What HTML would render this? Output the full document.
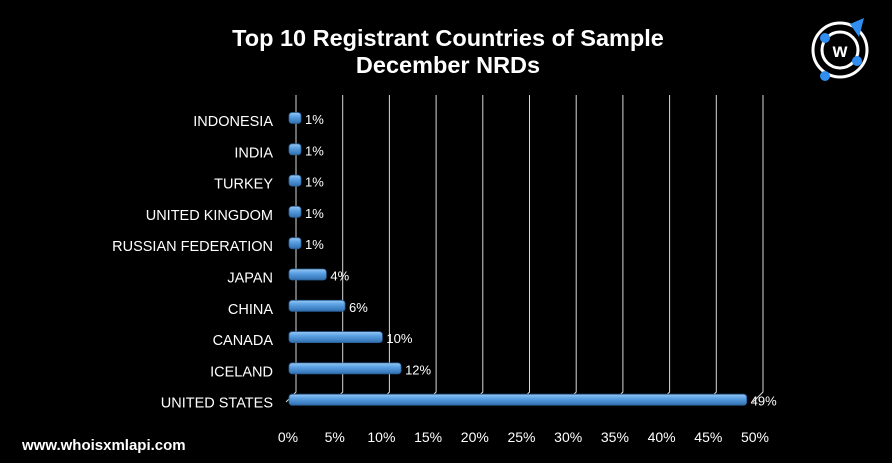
<!DOCTYPE html>
<html><head><meta charset="utf-8"><style>
body{margin:0;background:#000;}
svg{display:block;font-family:"Liberation Sans",Arial,sans-serif;}
</style></head><body>
<svg id="c" width="892" height="463">
<defs>
<linearGradient id="bg" x1="0" y1="0" x2="0" y2="1">
<stop offset="0" stop-color="#9cc8f0"/><stop offset="0.35" stop-color="#5ea4e6"/><stop offset="1" stop-color="#2f6fb0"/>
</linearGradient>
</defs>
<text x="448" y="46" text-anchor="middle" fill="#fff" font-size="23.5" font-weight="bold">Top 10 Registrant Countries of Sample</text>
<text x="448" y="73" text-anchor="middle" fill="#fff" font-size="23.5" font-weight="bold">December NRDs</text>
<g>
<circle cx="840" cy="50" r="27" fill="none" stroke="#fff" stroke-width="3"/>
<circle cx="840" cy="50" r="18" fill="none" stroke="#fff" stroke-width="3"/>
<text x="840" y="57" text-anchor="middle" font-size="19" font-weight="bold" fill="#fff">w</text>
<polygon points="850,24 864,18 859,37" fill="#2f8ef0"/>
<circle cx="825" cy="38" r="5" fill="#2f8ef0"/>
<circle cx="857" cy="61" r="5" fill="#2f8ef0"/>
<circle cx="825" cy="76" r="5" fill="#2f8ef0"/>
</g>
<text x="22" y="450" fill="#fff" font-size="15" font-weight="bold">www.whoisxmlapi.com</text>
<g id="grid"></g><g id="bars"></g>
</svg>
<script>
const categories=["INDONESIA","INDIA","TURKEY","UNITED KINGDOM","RUSSIAN FEDERATION","JAPAN","CHINA","CANADA","ICELAND","UNITED STATES"];
const values=[1,1,1,1,1,4,6,10,12,49];
const labels=["1%","1%","1%","1%","1%","4%","6%","10%","12%","49%"];
const ticks=[0,5,10,15,20,25,30,35,40,45,50];
const NS="http://www.w3.org/2000/svg";
const svg=document.getElementById('c'),grid=document.getElementById('grid'),bars=document.getElementById('bars');
const x0=289,pxPer=9.34,backDx=7;
const xs=v=>x0+v*pxPer;
const yTop=118,yStep=31.3;
function mk(t,a,p){const e=document.createElementNS(NS,t);for(const k in a)e.setAttribute(k,a[k]);(p||svg).appendChild(e);return e;}
ticks.forEach((t,i)=>{
 const x=xs(t);
 const l=mk('polyline',{points:`${x+backDx},95 ${x+backDx},392 ${x-3},402`,fill:'none',stroke:'#d8d8d8','stroke-width':1},grid);
 
 
 const tx=mk('text',{x:x-1,y:442,'text-anchor':'middle',fill:'#fff','font-size':14},grid);
 tx.textContent=t+'%';
 
 
});
categories.forEach((c,i)=>{
 const y=yTop+i*yStep;
 const lab=mk('text',{x:273,y:y+8,'text-anchor':'end',fill:'#fff','font-size':14.5},bars);
 lab.textContent=c;
 
 
 const w=Math.max(xs(values[i])-x0,12);
 const r=mk('rect',{x:x0,y:y-5.5,width:w,height:11,rx:3,fill:'url(#bg)',stroke:'#2a5f95','stroke-width':0.8},bars);
 
 
 const v=mk('text',{x:x0+w+4,y:y+6,fill:'#fff','font-size':13},bars);
 v.textContent=labels[i];
 
 
});
</script>
</body></html>
